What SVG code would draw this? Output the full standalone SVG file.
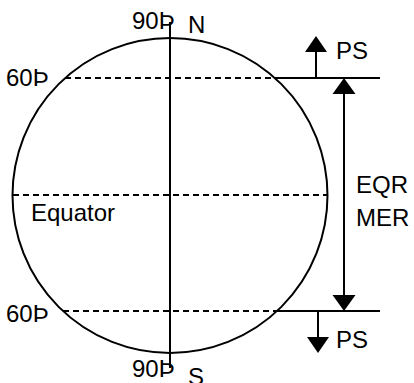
<svg xmlns="http://www.w3.org/2000/svg" width="414" height="383" viewBox="0 0 414 383">
<style>
text{font-family:"Liberation Sans",Arial,sans-serif;font-size:24px;fill:#000}
.s{stroke:#000;stroke-width:2;fill:none}
.d{stroke:#000;stroke-width:2;fill:none;stroke-dasharray:6 4}
.h{fill:#000;stroke:none}
</style>
<rect width="414" height="383" fill="#fff"/>
<g id="globe">
<circle class="s" cx="170" cy="195.5" r="157.5"/>
<line class="s" x1="170" y1="22" x2="170" y2="368"/>
<line class="d" x1="65" y1="78" x2="275" y2="78"/>
<line class="d" x1="13" y1="195" x2="327" y2="195"/>
<line class="d" x1="63" y1="311" x2="277" y2="311"/>
</g>
<g id="labels">
<text x="132" y="29">90Þ</text>
<text x="188" y="33">N</text>
<text x="6" y="86">60Þ</text>
<text x="31" y="221">Equator</text>
<text x="6" y="322">60Þ</text>
<text x="132" y="377">90Þ</text>
<text x="188" y="385">S</text>
<text x="336" y="59">PS</text>
<text x="356" y="193">EQR</text>
<text x="356" y="226">MER</text>
<text x="336" y="348">PS</text>
</g>
<g id="connectors">
<line class="s" x1="275" y1="78" x2="380" y2="78"/>
<line class="s" x1="277" y1="311" x2="380" y2="311"/>
<line class="s" x1="316" y1="78" x2="316" y2="50"/>
<path class="h" d="M316,36 L327,52 L305,52 Z"/>
<line class="s" x1="344" y1="92" x2="344" y2="297"/>
<path class="h" d="M344,78 L355.5,94 L332.5,94 Z"/>
<path class="h" d="M344,311 L355.5,295 L332.5,295 Z"/>
<line class="s" x1="318" y1="311" x2="318" y2="339"/>
<path class="h" d="M318,353 L329,337 L307,337 Z"/>
</g>
</svg>
